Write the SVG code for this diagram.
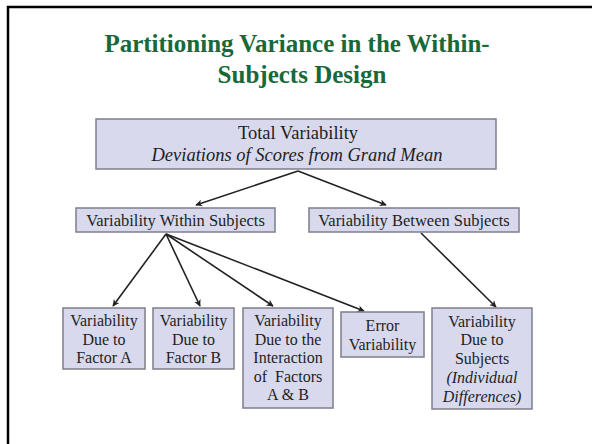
<svg xmlns="http://www.w3.org/2000/svg" width="592" height="444" viewBox="0 0 592 444">
<style>
.box{fill:#D9D9EE;stroke:#7E7E8A;stroke-width:1.5}
.t{font-family:"Liberation Serif","Times New Roman",serif;fill:#1e1e1e;text-anchor:middle}
.b{font-size:16px}
.w{font-size:16.5px}
.top{font-size:18.5px}
.i{font-style:italic}
.title{font-family:"Liberation Serif","Times New Roman",serif;font-weight:bold;font-size:25px;fill:#17693A;text-anchor:middle}
.c{stroke:#222;stroke-width:1.6;fill:none;marker-end:url(#ah)}
</style>
<defs>
<marker id="ah" viewBox="0 0 10 10" refX="9" refY="5" markerWidth="7" markerHeight="7" orient="auto" markerUnits="userSpaceOnUse">
<path d="M0,0 L10,5 L0,10 L3,5 Z" fill="#222"/>
</marker>
</defs>
<rect width="592" height="444" fill="#fff"/>
<path d="M8,444 V7 H592" fill="none" stroke="#000" stroke-width="2.5"/>
<g id="title">
<text class="title" x="297" y="52">Partitioning Variance in the Within-</text>
<text class="title" x="302" y="83">Subjects Design</text>
</g>
<g id="connectors">
<line class="c" x1="298" y1="171" x2="196" y2="205"/>
<line class="c" x1="298" y1="171" x2="386" y2="205"/>
<line class="c" x1="166" y1="234" x2="113" y2="306"/>
<line class="c" x1="166" y1="234" x2="200" y2="306"/>
<line class="c" x1="166" y1="234" x2="273" y2="306"/>
<line class="c" x1="166" y1="234" x2="364" y2="311"/>
<line class="c" x1="421" y1="233" x2="496" y2="307"/>
</g>
<g id="total">
<rect class="box" x="96" y="119" width="400" height="50"/>
<text class="t top" x="298" y="139">Total Variability</text>
<text class="t top i" x="297" y="161">Deviations of Scores from Grand Mean</text>
</g>
<g id="within">
<rect class="box" x="76" y="208" width="199" height="24"/>
<text class="t w" x="175.5" y="226">Variability Within Subjects</text>
</g>
<g id="between">
<rect class="box" x="309" y="208" width="210" height="24"/>
<text class="t w" x="414" y="226">Variability Between Subjects</text>
</g>
<g id="factorA">
<rect class="box" x="63" y="308" width="82" height="61"/>
<text class="t b" x="104" y="326">Variability</text>
<text class="t b" x="104" y="344.5">Due to</text>
<text class="t b" x="104" y="363">Factor A</text>
</g>
<g id="factorB">
<rect class="box" x="153" y="308" width="81" height="61"/>
<text class="t b" x="193.5" y="326">Variability</text>
<text class="t b" x="193.5" y="344.5">Due to</text>
<text class="t b" x="193.5" y="363">Factor B</text>
</g>
<g id="interaction">
<rect class="box" x="243" y="308" width="90" height="100"/>
<text class="t b" x="288" y="326">Variability</text>
<text class="t b" x="288" y="344.5">Due to the</text>
<text class="t b" x="288" y="363">Interaction</text>
<text class="t b" x="288" y="381.5" xml:space="preserve">of  Factors</text>
<text class="t b" x="288" y="400">A &amp; B</text>
</g>
<g id="error">
<rect class="box" x="341" y="312" width="83" height="45"/>
<text class="t b" x="382.5" y="331">Error</text>
<text class="t b" x="382.5" y="349.5">Variability</text>
</g>
<g id="subjects">
<rect class="box" x="432" y="308" width="100" height="101"/>
<text class="t b" x="482" y="326.5">Variability</text>
<text class="t b" x="482" y="345">Due to</text>
<text class="t b" x="482" y="364">Subjects</text>
<text class="t b i" x="482" y="383">(Individual</text>
<text class="t b i" x="482" y="401.5">Differences)</text>
</g>
</svg>
